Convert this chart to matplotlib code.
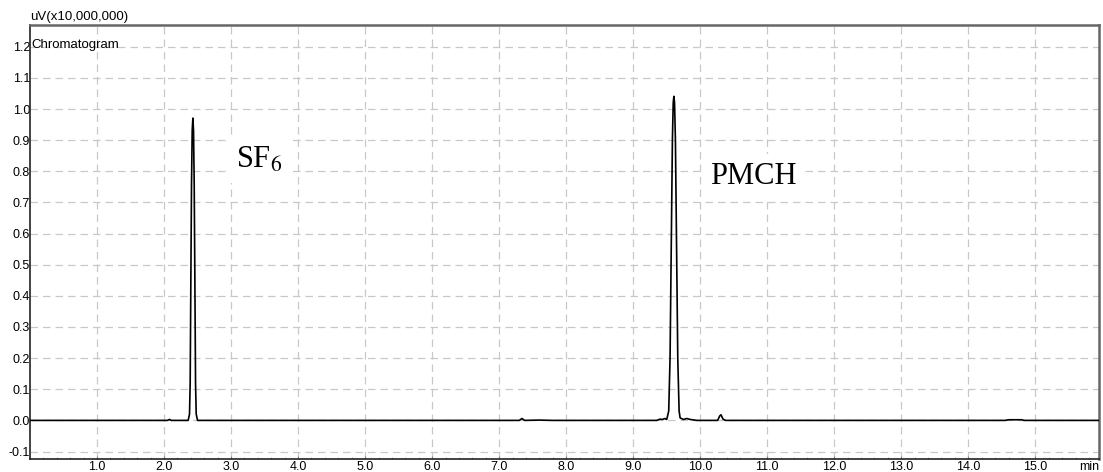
import matplotlib
matplotlib.use('Agg')
import matplotlib.pyplot as plt
from matplotlib.ticker import MultipleLocator, FixedLocator

plt.rcParams['font.family'] = ['Liberation Sans', 'DejaVu Sans']
plt.rcParams['mathtext.fontset'] = 'stix'

# trace (time in min, signal in uV x 1e7)
t_min = [0.00, 2.05, 2.08, 2.11, 2.36, 2.38, 2.39, 2.40, 2.41, 2.42, 2.43, 2.44, 2.45, 2.46, 2.47, 2.48, 2.50,
         7.30, 7.34, 7.38, 7.60, 7.80,
         9.35, 9.40, 9.44, 9.47, 9.50, 9.53, 9.55, 9.57, 9.585, 9.597, 9.607, 9.617, 9.63,
         9.645, 9.665, 9.685, 9.70, 9.75, 9.80, 9.85, 9.95,
         10.26, 10.29, 10.31, 10.34, 10.38, 14.55, 14.60, 14.80, 14.83, 15.95]
signal = [0.000, 0.000, 0.003, 0.000, 0.000, 0.020, 0.120, 0.450, 0.760, 0.930, 0.971, 0.930, 0.760, 0.450, 0.120, 0.020, 0.000,
          0.000, 0.006, 0.000, 0.001, 0.000,
          0.000, 0.004, 0.003, 0.006, 0.003, 0.030, 0.200, 0.600, 0.900, 1.020, 1.041, 1.020, 0.900,
          0.600, 0.200, 0.030, 0.008, 0.003, 0.006, 0.003, 0.000,
          0.000, 0.014, 0.018, 0.004, 0.000, 0.000, 0.002, 0.002, 0.000, 0.000]

peak_names = [r'SF$_6$', 'PMCH']
label_x = [3.08, 10.15]
label_y = [0.81, 0.76]

x_ticks = [1.0, 2.0, 3.0, 4.0, 5.0, 6.0, 7.0, 8.0, 9.0, 10.0, 11.0, 12.0, 13.0, 14.0, 15.0]
y_ticks = [-0.1, 0.0, 0.1, 0.2, 0.3, 0.4, 0.5, 0.6, 0.7, 0.8, 0.9, 1.0, 1.1, 1.2]

fig = plt.figure(figsize=(11.03, 4.72), dpi=100)
ax = fig.add_axes([30 / 1103, 13 / 472, 1069 / 1103, 434 / 472])

ax.plot(t_min, signal, color='black', lw=1.2, zorder=3)

ax.set_xlim(0, 15.95)
ax.set_ylim(-0.124, 1.27)
ax.xaxis.set_major_locator(FixedLocator(x_ticks))
ax.xaxis.set_minor_locator(MultipleLocator(0.2))
ax.yaxis.set_major_locator(FixedLocator(y_ticks))
ax.set_xticklabels(['%.1f' % v for v in x_ticks])
ax.set_yticklabels(['%.1f' % v for v in y_ticks])
ax.tick_params(axis='x', which='major', direction='in', length=2.5, labelsize=9, pad=1.5, color='#888888')
ax.tick_params(axis='x', which='minor', direction='in', length=1.5, color='#aaaaaa')
ax.tick_params(axis='y', which='major', length=0, labelsize=9, pad=0)

ax.grid(True, which='major', color='#c8c8c8', ls=(0, (6, 4)), lw=0.9)
ax.set_axisbelow(True)

for side in ['left', 'bottom']:
    ax.spines[side].set_color('#222222')
    ax.spines[side].set_linewidth(1.2)
for side in ['top', 'right']:
    ax.spines[side].set_color('#666666')
    ax.spines[side].set_linewidth(1.8)

ax.text(0.0, 1.004, 'uV(x10,000,000)', transform=ax.transAxes, fontsize=9.5, ha='left', va='bottom')
ax.text(0.001, 0.953, 'Chromatogram', transform=ax.transAxes, fontsize=9.5, ha='left', va='center', zorder=4)
ax.text(0.991, -0.004, 'min', transform=ax.transAxes, fontsize=9, ha='center', va='top')

for name, x, y in zip(peak_names, label_x, label_y):
    ax.text(x, y, name, family=['Liberation Serif', 'DejaVu Serif'], fontsize=22,
            ha='left', va='baseline', zorder=4,
            bbox=dict(facecolor='white', edgecolor='none', pad=6))

fig.savefig('out.png', dpi=100)
